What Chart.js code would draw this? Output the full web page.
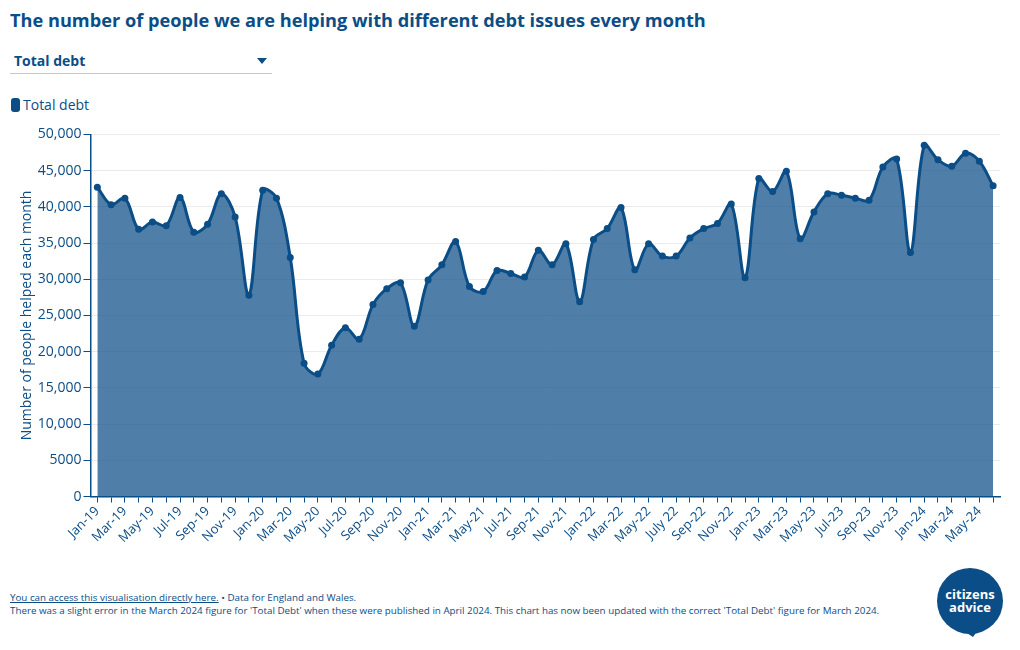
<!DOCTYPE html>
<html>
<head>
<meta charset="utf-8">
<script src="https://cdn.jsdelivr.net/npm/chart.js@4.4.1/dist/chart.umd.min.js"></script>
<style>
  body { margin: 0; width: 1020px; height: 650px; background: #fff; font-family: "Open Sans", sans-serif; color: #0b4d86; position: relative; overflow: hidden; }
  .title { position: absolute; left: 10px; top: 8px; font-size: 18.2px; font-weight: 700; color: #0b4d86; white-space: nowrap; }
  .select { position: absolute; left: 10px; top: 50px; width: 262px; height: 23px; border-bottom: 1px solid #b9c9d9; }
  .select span { position: absolute; left: 4px; top: 1px; font-size: 14px; font-weight: 700; }
  .select i { position: absolute; right: 5px; top: 8px; width: 0; height: 0; border-left: 5px solid transparent; border-right: 5px solid transparent; border-top: 6px solid #0b4d86; }
  .legend { position: absolute; left: 11px; top: 95px; font-size: 14px; white-space: nowrap; }
  .legend b { display: inline-block; width: 9px; height: 14px; background: #0b4d86; border-radius: 3px; vertical-align: -2px; margin-right: 3px; }
  #wrap { position: absolute; left: 0; top: 124px; width: 1010px; height: 423px; }
  .foot { position: absolute; left: 10px; top: 591px; font-size: 9.8px; line-height: 13px; color: #0b4d86; white-space: nowrap; }
  .foot u { color: #0b4d86; }
  .logo { position: absolute; left: 935px; top: 566px; }
</style>
</head>
<body>
<div class="title">The number of people we are helping with different debt issues every month</div>
<div class="select"><span>Total debt</span><i></i></div>
<div class="legend"><b></b>Total debt</div>
<div id="wrap"><canvas id="debtChart"></canvas></div>
<div class="foot"><u>You can access this visualisation directly here.</u> • Data for England and Wales.<br>There was a slight error in the March 2024 figure for 'Total Debt' when these were published in April 2024. This chart has now been updated with the correct 'Total Debt' figure for March 2024.</div>
<svg class="logo" width="72" height="74" viewBox="0 0 72 74">
  <circle cx="35" cy="35" r="33" fill="#0b4d86"/>
  <path d="M27 64 L38 71 L43 64 Z" fill="#0b4d86"/>
  <text x="35" y="33" text-anchor="middle" fill="#fff" font-family="Open Sans" font-weight="700" font-size="13">citizens</text>
  <text x="35" y="46" text-anchor="middle" fill="#fff" font-family="Open Sans" font-weight="700" font-size="13">advice</text>
</svg>
<script>
// month labels, Jan-19 .. Jun-24
const months = [
  'Jan-19','Feb-19','Mar-19','Apr-19','May-19','Jun-19','Jul-19','Aug-19','Sep-19','Oct-19','Nov-19','Dec-19',
  'Jan-20','Feb-20','Mar-20','Apr-20','May-20','Jun-20','Jul-20','Aug-20','Sep-20','Oct-20','Nov-20','Dec-20',
  'Jan-21','Feb-21','Mar-21','Apr-21','May-21','Jun-21','Jul-21','Aug-21','Sep-21','Oct-21','Nov-21','Dec-21',
  'Jan-22','Feb-22','Mar-22','Apr-22','May-22','Jun-22','July 22','Aug-22','Sep-22','Oct-22','Nov-22','Dec-22',
  'Jan-23','Feb-23','Mar-23','Apr-23','May-23','Jun-23','Jul-23','Aug-23','Sep-23','Oct-23','Nov-23','Dec-23',
  'Jan-24','Feb-24','Mar-24','Apr-24','May-24','Jun-24'
];

// people helped with total debt each month
const totalDebt = [
  42700, 40300, 41200, 36900, 37900, 37400, 41300, 36500, 37600, 41800, 38600, 27800,
  42300, 41200, 33000, 18400, 16900, 20900, 23300, 21700, 26500, 28700, 29500, 23500,
  29900, 32000, 35200, 29000, 28300, 31200, 30800, 30300, 34000, 32000, 34900, 26900,
  35500, 37000, 39900, 31300, 34900, 33200, 33200, 35700, 37000, 37700, 40400, 30200,
  43900, 42100, 44900, 35600, 39300, 41800, 41600, 41200, 40900, 45500, 46600, 33700,
  48500, 46500, 45600, 47400, 46300, 42900
];

const yTicks = [0, 5000, 10000, 15000, 20000, 25000, 30000, 35000, 40000, 45000, 50000];

const navy = '#0b4d86';

new Chart(document.getElementById('debtChart'), {
  type: 'line',
  data: {
    labels: months,
    datasets: [{
      label: 'Total debt',
      data: totalDebt,
      borderColor: navy,
      backgroundColor: 'rgba(11,77,134,0.72)',
      borderWidth: 3,
      fill: 'origin',
      tension: 0.35,
      pointRadius: 3.5,
      pointBackgroundColor: navy,
      pointBorderColor: navy,
      pointBorderWidth: 0
    }]
  },
  options: {
    responsive: true,
    maintainAspectRatio: false,
    animation: false,
    layout: { padding: { top: 9, right: 10, left: 19 } },
    plugins: { legend: { display: false }, tooltip: { enabled: false } },
    scales: {
      x: {
        offset: true,
        grid: { drawOnChartArea: false, tickColor: navy, tickLength: 6 },
        border: { color: navy, width: 1.5 },
        ticks: {
          autoSkip: false,
          maxRotation: 45,
          minRotation: 45,
          color: navy,
          font: { family: 'Open Sans', size: 13 },
          padding: 1,
          callback: function (v, i) { return i % 2 ? '' : months[i]; }
        }
      },
      y: {
        min: 0,
        max: 50000,
        afterBuildTicks: axis => { axis.ticks = yTicks.map(v => ({ value: v })); },
        grid: { color: '#ebebeb', tickColor: navy, tickLength: 7 },
        border: { color: navy, width: 1.5 },
        title: { display: true, text: 'Number of people helped each month', color: navy, font: { family: 'Open Sans', size: 14 }, padding: { top: 0, bottom: 0 } },
        ticks: {
          color: navy,
          font: { family: 'Open Sans', size: 14 },
          padding: 2,
          callback: v => v >= 10000 ? v.toLocaleString('en-GB') : String(v)
        }
      }
    }
  }
});
</script>
</body>
</html>
